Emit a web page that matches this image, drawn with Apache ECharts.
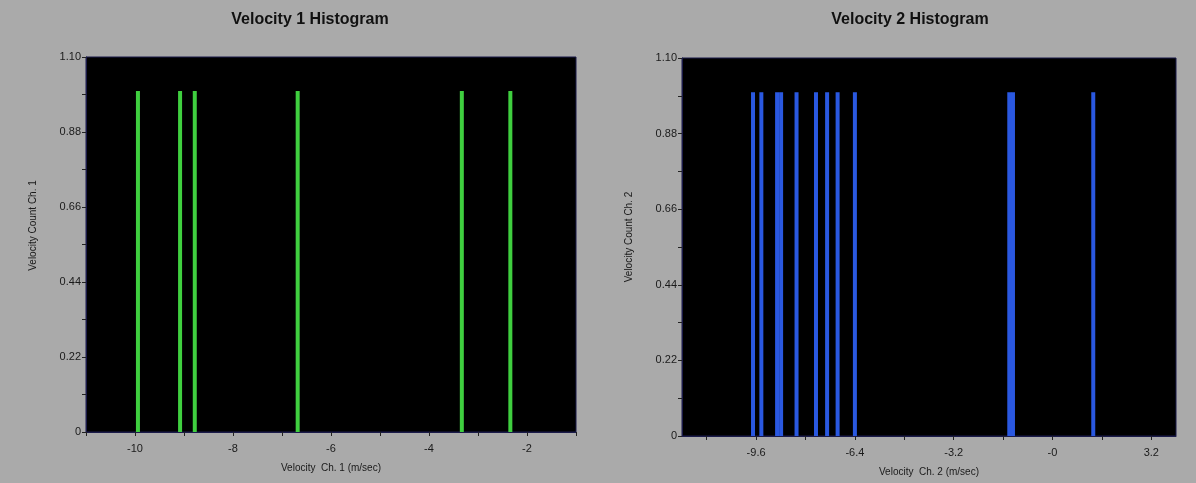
<!DOCTYPE html>
<html>
<head>
<meta charset="utf-8">
<script src="https://cdn.jsdelivr.net/npm/echarts@6/dist/echarts.min.js"></script>
<style>
html,body{margin:0;padding:0;background:#aaaaaa;}
#c{width:1196px;height:483px;}
</style>
</head>
<body>
<div id="c"></div>
<script>
// Velocity 1 histogram (m/sec) and counts
const v1Values = [-9.94, -9.08, -8.78, -6.68, -3.33, -2.34];
const v1Counts = [1, 1, 1, 1, 1, 1];
// Velocity 2 histogram
const v2Values = [-9.70, -9.43, -8.92, -8.79, -8.29, -7.66, -7.30, -6.96, -6.40, -1.40, -1.28, 1.32];
const v2Counts = [1, 1, 1, 1, 1, 1, 1, 1, 1, 1, 1, 1];

// axis ticks / labels
const yLabelValues = [0, 0.22, 0.44, 0.66, 0.88, 1.10];
const yTickLabels = ['0', '0.22', '0.44', '0.66', '0.88', '1.10'];
const yTickValues = [0, 0.11, 0.22, 0.33, 0.44, 0.55, 0.66, 0.77, 0.88, 0.99, 1.10];

const x1LabelValues = [-10, -8, -6, -4, -2];
const x1TickLabels = ['-10', '-8', '-6', '-4', '-2'];
const x1TickValues = [-11, -10, -9, -8, -7, -6, -5, -4, -3, -2, -1];

const x2LabelValues = [-9.6, -6.4, -3.2, 0, 3.2];
const x2TickLabels = ['-9.6', '-6.4', '-3.2', '-0', '3.2'];
const x2TickValues = [-11.2, -9.6, -8, -6.4, -4.8, -3.2, -1.6, 0, 1.6, 3.2];

const titles = ['Velocity 1 Histogram', 'Velocity 2 Histogram'];
const xNames = ['Velocity  Ch. 1 (m/sec)', 'Velocity  Ch. 2 (m/sec)'];
const yNames = ['Velocity Count Ch. 1', 'Velocity Count Ch. 2'];

const FONT = 'Liberation Sans, Arial, sans-serif';
const AXIS_COL = '#1b1b4a';
const TEXT_COL = '#1a1a1a';

function labelFmt(values, labels) {
  return function (v) {
    for (let i = 0; i < values.length; i++) {
      if (Math.abs(values[i] - v) < 1e-6) return labels[i];
    }
    return '';
  };
}

function xAxis(gi, min, max, lv, ll, tv, name) {
  return {
    type: 'value', gridIndex: gi, min: min, max: max,
    name: name, nameLocation: 'middle', nameGap: 31,
    nameTextStyle: { color: TEXT_COL, fontFamily: FONT, fontSize: 10 },
    axisLine: { show: true, onZero: false, lineStyle: { color: AXIS_COL, width: 1 } },
    axisTick: { show: true, customValues: tv, length: 4, lineStyle: { color: '#222' } },
    axisLabel: { customValues: lv, formatter: labelFmt(lv, ll), color: TEXT_COL, fontFamily: FONT, fontSize: 11, margin: 11 },
    splitLine: { show: false }
  };
}
function yAxis(gi, name, pad) {
  return {
    type: 'value', gridIndex: gi, min: 0, max: 1.10,
    name: name, nameLocation: 'middle', nameGap: 48,
    nameTextStyle: { color: TEXT_COL, fontFamily: FONT, fontSize: 10, padding: pad },
    axisLine: { show: true, onZero: false, lineStyle: { color: AXIS_COL, width: 1 } },
    axisTick: { show: true, customValues: yTickValues, length: 4, lineStyle: { color: '#222' } },
    axisLabel: { customValues: yLabelValues, formatter: labelFmt(yLabelValues, yTickLabels), color: TEXT_COL, fontFamily: FONT, fontSize: 11, margin: 5 },
    splitLine: { show: false }
  };
}

function pairs(xs, ys) { return xs.map((x, i) => [x, ys[i]]); }

const chart = echarts.init(document.getElementById('c'), null, { renderer: 'canvas' });
chart.setOption({
  backgroundColor: '#aaaaaa',
  animation: false,
  title: [
    { text: titles[0], left: 305, top: 7, textAlign: 'center',
      textStyle: { fontFamily: FONT, fontWeight: 'bold', fontSize: 16, color: '#111' } },
    { text: titles[1], left: 905, top: 7, textAlign: 'center',
      textStyle: { fontFamily: FONT, fontWeight: 'bold', fontSize: 16, color: '#111' } }
  ],
  grid: [
    { left: 86, top: 57, width: 490, height: 375, show: true, backgroundColor: '#000000', borderColor: AXIS_COL, borderWidth: 1 },
    { left: 682, top: 58, width: 494, height: 378, show: true, backgroundColor: '#000000', borderColor: AXIS_COL, borderWidth: 1 }
  ],
  xAxis: [
    xAxis(0, -11, -1, x1LabelValues, x1TickLabels, x1TickValues, xNames[0]),
    xAxis(1, -12, 4, x2LabelValues, x2TickLabels, x2TickValues, xNames[1])
  ],
  yAxis: [
    yAxis(0, yNames[0], [0, 0, 0, 38]),
    yAxis(1, yNames[1], [0, 0, 0, 20])
  ],
  series: [
    { type: 'bar', xAxisIndex: 0, yAxisIndex: 0, barWidth: 4,
      itemStyle: { color: '#3fcf3f' }, data: pairs(v1Values, v1Counts) },
    { type: 'bar', xAxisIndex: 1, yAxisIndex: 1, barWidth: 4,
      itemStyle: { color: '#2a58e0' }, data: pairs(v2Values, v2Counts) }
  ]
});
</script>
</body>
</html>
